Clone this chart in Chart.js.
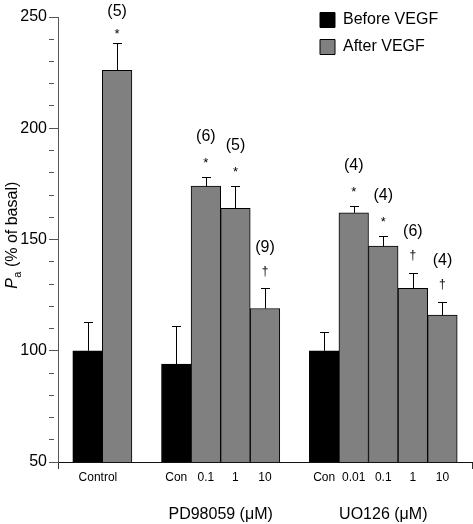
<!DOCTYPE html>
<html><head><meta charset="utf-8">
<script src="https://cdn.jsdelivr.net/npm/chart.js@4.4.1/dist/chart.umd.min.js"></script>
<style>html,body{margin:0;padding:0;background:#fff}#wrap{width:473px;height:524px;position:relative}</style>
</head><body><div id="wrap"><canvas id="c"></canvas></div>
<script>
// ---- data ----
const tickLabels = ['Control','Con','0.1','1','10','Con','0.01','0.1','1','10'];
const tickSlots  = [0.35, 3, 4, 5, 6, 8, 9, 10, 11, 12];
const groupLabels = ['PD98059 (\u03BCM)', 'UO126 (\u03BCM)'];
const groupSlots  = [4.5, 10];
const beforeSlots  = [0, 3, 8];
const beforeValues = [100, 94, 100];
const beforeErrors = [13, 17, 8.5];
const afterSlots  = [1, 4, 5, 6, 9, 10, 11, 12];
const afterValues = [226, 174, 164, 119, 162, 147, 128, 116];
const afterErrors = [12.5, 4, 10, 9, 3, 4.5, 7, 6];
const afterN   = ['(5)','(6)','(5)','(9)','(4)','(4)','(6)','(4)'];
const afterSig = ['*','*','*','\u2020','*','*','\u2020','\u2020'];
const yTicksMajor = [50, 100, 150, 200, 250];

const FONT = '"Liberation Sans", Arial, Helvetica, sans-serif';
Chart.defaults.font.family = FONT;
Chart.defaults.color = '#000';

function centerText(ctx, txt, x, cy) {
  const m = ctx.measureText(txt);
  const a = m.actualBoundingBoxAscent, d = m.actualBoundingBoxDescent;
  ctx.fillText(txt, x, cy + (a - d) / 2);
}

const errPlugin = {
  id: 'errbars',
  afterDatasetsDraw(chart) {
    const ctx = chart.ctx, ys = chart.scales.y;
    ctx.save();
    chart.data.datasets.forEach((ds, di) => {
      const meta = chart.getDatasetMeta(di);
      meta.data.forEach((el, i) => {
        const v = ds.data[i].y, e = ds.errors[i];
        const top = ys.getPixelForValue(v + e);
        ctx.strokeStyle = '#000'; ctx.lineWidth = 1;
        ctx.beginPath();
        ctx.moveTo(Math.round(el.x) + 0.5, el.y);
        ctx.lineTo(Math.round(el.x) + 0.5, Math.round(top) + 0.5);
        ctx.moveTo(Math.round(el.x) - 4, Math.round(top) + 0.5);
        ctx.lineTo(Math.round(el.x) + 5, Math.round(top) + 0.5);
        ctx.stroke();
        if (ds.nLabels) {
          ctx.fillStyle = '#000'; ctx.textAlign = 'center'; ctx.textBaseline = 'alphabetic';
          const labY = Math.max(top - 41, 11);
          const symY = Math.max(top - 17, labY + 20);
          ctx.font = '16px ' + FONT;
          centerText(ctx, ds.nLabels[i], el.x, labY);
          const s = ds.sig[i];
          ctx.font = (s === '*' ? '13px ' : '12px ') + FONT;
          centerText(ctx, s, el.x, symY);
        }
      });
    });
    ctx.restore();
  },
  afterDraw(chart) {
    const ctx = chart.ctx, ys = chart.scales.y;
    const cy = (ys.top + ys.bottom) / 2 - 4;
    ctx.save();
    ctx.translate(13, cy);
    ctx.rotate(-Math.PI / 2);
    ctx.fillStyle = '#000'; ctx.textBaseline = 'middle'; ctx.textAlign = 'left';
    const f1 = 'italic 16px ' + FONT, f2 = '11px ' + FONT, f3 = '16px ' + FONT;
    ctx.font = f1; const w1 = ctx.measureText('P').width;
    ctx.font = f2; const w2 = ctx.measureText('a').width;
    ctx.font = f3; const rest = ' (% of basal)'; const w3 = ctx.measureText(rest).width;
    let x = -(w1 + w2 + w3) / 2;
    ctx.font = f1; ctx.fillText('P', x, 0); x += w1 + 0.5;
    ctx.font = f2; ctx.fillText('a', x, 5); x += w2;
    ctx.font = f3; ctx.fillText(rest, x, 0);
    ctx.restore();
  },
  beforeDraw(chart) {
    const lg = chart.legend;
    if (lg) { lg.left = 309; lg.right = 473; lg.top = 1; lg.bottom = 120; }
  }
};

new Chart(document.getElementById('c'), {
  type: 'bar',
  data: {
    datasets: [
      { label: 'Before VEGF', data: beforeSlots.map((s, i) => ({x: s, y: beforeValues[i]})),
        errors: beforeErrors, backgroundColor: '#000', borderColor: '#000', borderWidth: 1,
        grouped: false, categoryPercentage: 1, barPercentage: 1 },
      { label: 'After VEGF', data: afterSlots.map((s, i) => ({x: s, y: afterValues[i]})),
        errors: afterErrors, nLabels: afterN, sig: afterSig,
        backgroundColor: '#808080', borderColor: '#000', borderWidth: 1,
        grouped: false, categoryPercentage: 1, barPercentage: 1 }
    ]
  },
  options: {
    responsive: true, maintainAspectRatio: false, animation: false,
    layout: { padding: { top: 17, right: 1, bottom: 0, left: 0 } },
    plugins: {
      tooltip: { enabled: false },
      legend: {
        position: 'chartArea', align: 'start',
        labels: { boxWidth: 15, boxHeight: 15, padding: 11, color: '#000', font: { size: 16, family: FONT } }
      }
    },
    scales: {
      x: {
        type: 'linear', position: 'bottom', min: -1, max: 13, offset: false, weight: 0,
        afterBuildTicks(s) { s.ticks = [-1].concat(tickSlots, [13]).map(v => ({value: v})); },
        afterFit(s) { s.height = 30; },
        ticks: { autoSkip: false, maxRotation: 0, padding: 1, color: '#000', font: { size: 12, family: FONT },
          callback: v => { const i = tickSlots.indexOf(v); return i >= 0 ? tickLabels[i] : ''; } },
        grid: { drawOnChartArea: false, offset: false, tickLength: 7,
          tickColor: c => (c.tick && (c.tick.value === -1 || c.tick.value === 13)) ? '#333' : 'rgba(0,0,0,0)' },
        border: { color: '#111', width: 1 }
      },
      g: {
        type: 'linear', axis: 'x', position: 'bottom', min: -1, max: 13, offset: false, weight: 1,
        afterBuildTicks(s) { s.ticks = groupSlots.map(v => ({value: v})); },
        afterFit(s) { s.height = 32; },
        ticks: { autoSkip: false, maxRotation: 0, padding: 5, color: '#000', font: { size: 16, family: FONT },
          callback: v => { const i = groupSlots.indexOf(v); return i >= 0 ? groupLabels[i] : ''; } },
        grid: { display: false }, border: { display: false }
      },
      y: {
        type: 'linear', min: 50, max: 250, beginAtZero: false,
        afterFit(s) { s.width = 58; },
        ticks: { stepSize: 10, autoSkip: false, padding: 2, color: '#000', font: { size: 16, family: FONT },
          callback: v => yTicksMajor.includes(v) ? String(v) : '' },
        grid: { drawOnChartArea: false, tickLength: 9, tickColor: '#555',
          tickBorderDash: c => (c.tick && yTicksMajor.includes(c.tick.value)) ? [] : [5, 30] },
        border: { color: '#555', width: 1 }
      }
    }
  },
  plugins: [errPlugin]
});
</script>
</body></html>
